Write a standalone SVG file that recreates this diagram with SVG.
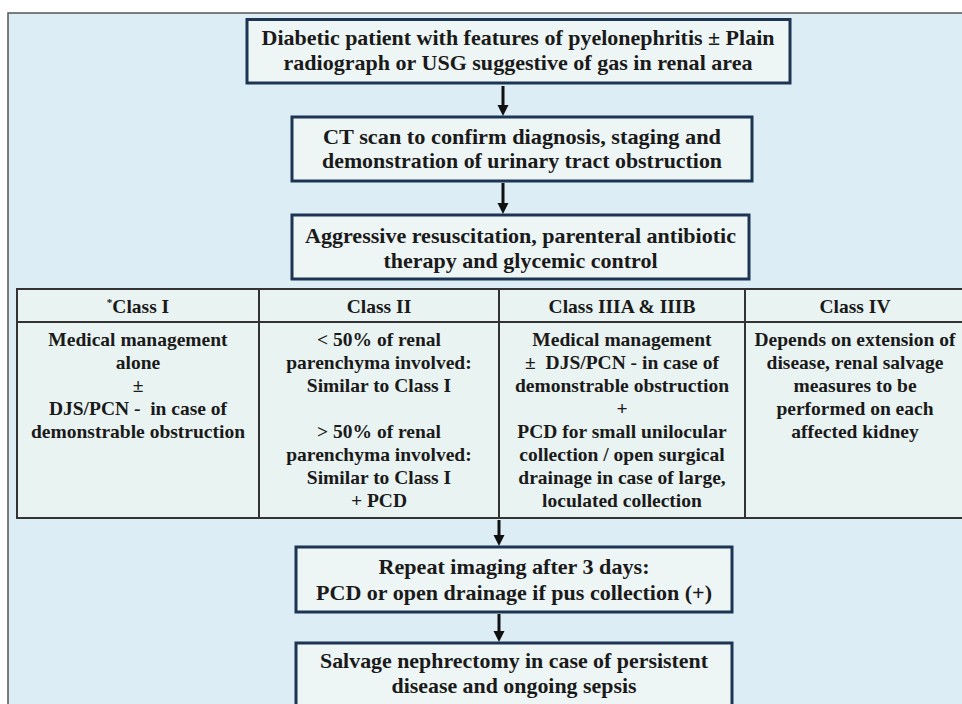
<svg xmlns="http://www.w3.org/2000/svg" width="962" height="704" viewBox="0 0 962 704">
<defs>
<marker id="ah" markerUnits="userSpaceOnUse" markerWidth="12" markerHeight="12" refX="0" refY="5.5" orient="auto">
<path d="M0,0 L11,5.5 L0,11 z" fill="#111"/>
</marker>
</defs>
<style>
.bx{fill:#eef5f5;stroke:#1c3552;stroke-width:3}
.bt{font-family:"Liberation Serif","Times New Roman",serif;font-weight:bold;font-size:21px;fill:#1a1a1a;text-anchor:middle}
.tt{font-family:"Liberation Serif","Times New Roman",serif;font-weight:bold;font-size:19.5px;fill:#1a1a1a;text-anchor:middle}
.cell{fill:#e9f3f1;stroke:#333;stroke-width:2}
.ln{stroke:#333;stroke-width:2}
.ar{stroke:#111;stroke-width:3;fill:none}
</style>
<rect x="0" y="0" width="962" height="704" fill="#ffffff"/>
<rect x="8" y="13" width="960" height="700" fill="#dcedf5" stroke="#555" stroke-width="1.5"/>

<g id="n1">
<rect class="bx" x="247" y="19.5" width="543" height="63.5"/>
<text class="bt" x="518" y="45" textLength="513" lengthAdjust="spacingAndGlyphs">Diabetic patient with features of pyelonephritis ± Plain</text>
<text class="bt" x="518" y="70" textLength="469" lengthAdjust="spacingAndGlyphs">radiograph or USG suggestive of gas in renal area</text>
</g>
<g id="n2">
<rect class="bx" x="292" y="117" width="460" height="64"/>
<text class="bt" x="522" y="144" textLength="398" lengthAdjust="spacingAndGlyphs">CT scan to confirm diagnosis, staging and</text>
<text class="bt" x="522" y="168" textLength="400" lengthAdjust="spacingAndGlyphs">demonstration of urinary tract obstruction</text>
</g>
<g id="n3">
<rect class="bx" x="292" y="215" width="457" height="64"/>
<text class="bt" x="520.5" y="243" textLength="431" lengthAdjust="spacingAndGlyphs">Aggressive resuscitation, parenteral antibiotic</text>
<text class="bt" x="520.5" y="268" textLength="274" lengthAdjust="spacingAndGlyphs">therapy and glycemic control</text>
</g>

<g id="table">
<rect class="cell" x="17" y="289" width="950" height="229"/>
<line class="ln" x1="17" y1="322" x2="967" y2="322"/>
<line class="ln" x1="259" y1="289" x2="259" y2="518"/>
<line class="ln" x1="499" y1="289" x2="499" y2="518"/>
<line class="ln" x1="745" y1="289" x2="745" y2="518"/>
</g>
<g id="c1">
<text class="tt" x="138" y="313"><tspan font-size="11" dy="-7">*</tspan><tspan dy="7">Class I</tspan></text>
<text class="tt" x="138" y="346">Medical management</text>
<text class="tt" x="138" y="369">alone</text>
<text class="tt" x="138" y="392">±</text>
<text class="tt" x="138" y="415" xml:space="preserve">DJS/PCN -  in case of</text>
<text class="tt" x="138" y="438">demonstrable obstruction</text>
</g>
<g id="c2">
<text class="tt" x="379" y="313">Class II</text>
<text class="tt" x="379" y="346">&lt; 50% of renal</text>
<text class="tt" x="379" y="369">parenchyma involved:</text>
<text class="tt" x="379" y="392">Similar to Class I</text>
<text class="tt" x="379" y="438">&gt; 50% of renal</text>
<text class="tt" x="379" y="461">parenchyma involved:</text>
<text class="tt" x="379" y="484">Similar to Class I</text>
<text class="tt" x="379" y="507">+ PCD</text>
</g>
<g id="c3">
<text class="tt" x="622" y="313">Class IIIA &amp; IIIB</text>
<text class="tt" x="622" y="346">Medical management</text>
<text class="tt" x="622" y="369" xml:space="preserve">±  DJS/PCN - in case of</text>
<text class="tt" x="622" y="392">demonstrable obstruction</text>
<text class="tt" x="622" y="415">+</text>
<text class="tt" x="622" y="438">PCD for small unilocular</text>
<text class="tt" x="622" y="461">collection / open surgical</text>
<text class="tt" x="622" y="484">drainage in case of large,</text>
<text class="tt" x="622" y="507">loculated collection</text>
</g>
<g id="c4">
<text class="tt" x="855" y="313">Class IV</text>
<text class="tt" x="855" y="346">Depends on extension of</text>
<text class="tt" x="855" y="369">disease, renal salvage</text>
<text class="tt" x="855" y="392">measures to be</text>
<text class="tt" x="855" y="415">performed on each</text>
<text class="tt" x="855" y="438">affected kidney</text>
</g>

<g id="n4">
<rect class="bx" x="296" y="547" width="436" height="65"/>
<text class="bt" x="514" y="574" textLength="271" lengthAdjust="spacingAndGlyphs">Repeat imaging after 3 days:</text>
<text class="bt" x="514" y="600" textLength="396" lengthAdjust="spacingAndGlyphs">PCD or open drainage if pus collection (+)</text>
</g>
<g id="n5">
<rect class="bx" x="296" y="643" width="436" height="70"/>
<text class="bt" x="514" y="668" textLength="388" lengthAdjust="spacingAndGlyphs">Salvage nephrectomy in case of persistent</text>
<text class="bt" x="514" y="693" textLength="245" lengthAdjust="spacingAndGlyphs">disease and ongoing sepsis</text>
</g>

<g id="connectors">
<line class="ar" x1="503" y1="86" x2="503" y2="105" marker-end="url(#ah)"/>
<line class="ar" x1="503" y1="183" x2="503" y2="203" marker-end="url(#ah)"/>
<line class="ar" x1="499" y1="520" x2="499" y2="535" marker-end="url(#ah)"/>
<line class="ar" x1="499" y1="614" x2="499" y2="631" marker-end="url(#ah)"/>
</g>
</svg>
